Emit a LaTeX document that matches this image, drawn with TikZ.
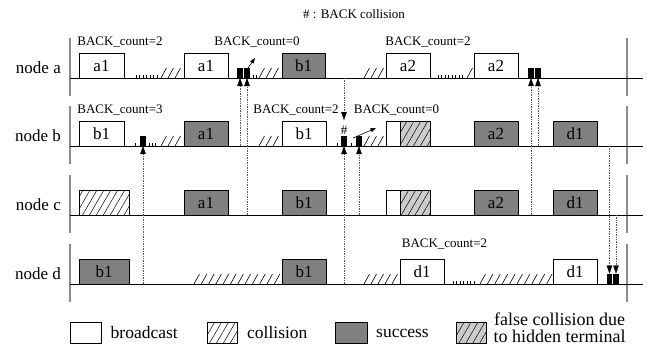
\documentclass[tikz,border=0pt]{standalone}
\usepackage{fontspec}
\setmainfont{Liberation Serif}
\usetikzlibrary{patterns.meta,arrows.meta}

\definecolor{succgray}{gray}{0.5}
\definecolor{hidgray}{gray}{0.8}
\definecolor{sidegray}{gray}{0.55}
\definecolor{linkgray}{gray}{0.35}

% backoff slots: small ticks on the time line
\newcommand\tickrun[4]{\foreach \i in {0,...,#3} \draw[line width=0.5pt] ({#1+\i*#2},#4) -- ++(0,-3.5);}
% deferred slots: short slashes on the time line
\newcommand\slashrun[4]{\foreach \i in {0,...,#3} \draw[line width=0.6pt] ({#1+\i*#2},#4) -- ++(5.5,-10);}

\tikzset{
  tl/.style={line width=0.7pt},
  side/.style={draw=sidegray, line width=1.1pt},
  slot/.style={draw, line width=0.6pt, minimum height=25pt, inner sep=0pt,
               font=\fontsize{17}{17}\selectfont},
  bcast/.style={slot, fill=white},
  succ/.style={slot, fill=succgray},
  coll/.style={slot, pattern={Lines[angle=60,distance=6pt,line width=0.5pt]}},
  hid/.style={slot, fill=hidgray, postaction={pattern={Lines[angle=60,distance=6pt,line width=0.5pt]}}},
  ack/.style={fill=black, minimum width=5.5pt, minimum height=10pt, inner sep=0pt, anchor=south},
  cnt/.style={font=\fontsize{13}{13}\selectfont, inner sep=0pt},
  rowname/.style={font=\fontsize{17}{17}\selectfont, anchor=base east, inner sep=0pt},
  lgtext/.style={font=\fontsize{17.5}{17}\selectfont, inner sep=0pt},
  lgbox/.style={minimum width=31pt, minimum height=21pt},
  link/.style={densely dotted, line width=0.7pt, draw=linkgray,
               -{Triangle[length=8pt,width=5.5pt,color=black,line width=0.2pt]}},
  bump/.style={-{Triangle[length=5.5pt,width=4pt]}, line width=0.6pt},
}

\begin{document}
\begin{tikzpicture}[x=1pt,y=-1pt]
\useasboundingbox (0,0) rectangle (647,346);

\node[cnt] (title) at (354,14) {\# : BACK collision};

% ---- row frames and time lines
\foreach \r/\b in {a/78, b/146, c/215, d/284}{
  \draw[side] (70,\b-40) -- (70,\b+18);
  \draw[side] (627,\b-40) -- (627,\b+18);
  \draw[tl] (70,\b) -- (643,\b);
  \node[rowname] (name\r) at (61,\b-5) {node \r};
}

% ---- node a
\node[bcast, minimum width=45pt] (a1) at (101.5,65.5) {a1};
\tickrun{136}{3.5}{6}{78}
\slashrun{161}{7}{2}{78}
\node[bcast, minimum width=44pt] (a2) at (206,65.5) {a1};
\node[ack] (aAck1) at (240,78) {};
\node[ack] (aAck2) at (247,78) {};
\tickrun{253}{3}{1}{78}
\slashrun{259}{7}{2}{78}
\node[succ, minimum width=43pt] (a3) at (303.5,65.5) {b1};
\slashrun{364}{7}{2}{78}
\node[bcast, minimum width=44pt] (a4) at (408,65.5) {a2};
\tickrun{438}{3.5}{7}{78}
\slashrun{467}{7}{0}{78}
\node[bcast, minimum width=44pt] (a5) at (496,65.5) {a2};
\node[ack] (aAck3) at (531,78) {};
\node[ack] (aAck4) at (538,78) {};
\node[cnt] (ca1) at (120,42) {BACK\_count=2};
\node[cnt] (ca2) at (257,42) {BACK\_count=0};
\node[cnt] (ca3) at (428,42) {BACK\_count=2};
\coordinate (ta0) at (248,68);
\coordinate (ta1) at (255,58);
\draw[bump] (ta0) -- (ta1);

% ---- node b
\node[bcast, minimum width=45pt] (b1) at (101.5,133.5) {b1};
\tickrun{135.5}{3.5}{0}{146}
\node[ack] (bAck1) at (143,146) {};
\tickrun{149}{3.3}{2}{146}
\slashrun{161}{7}{2}{146}
\node[succ, minimum width=44pt] (b2) at (206,133.5) {a1};
\slashrun{259}{7}{2}{146}
\node[bcast, minimum width=44pt] (b3) at (304,133.5) {b1};
\tickrun{337}{1}{0}{146}
\node[ack] (bAck2) at (344,146) {};
\node[cnt] (hash) at (344,130.5) {\#};
\tickrun{351.5}{1}{0}{146}
\node[ack] (bAck3) at (359,146) {};
\slashrun{364}{7}{2}{146}
\node[bcast, minimum width=14pt] (b4w) at (393,133.5) {};
\node[hid, minimum width=30pt] (b4h) at (415,133.5) {};
\node[succ, minimum width=44pt] (b5) at (496,133.5) {a2};
\node[succ, minimum width=44pt] (b6) at (575,133.5) {d1};
\node[cnt] (cb1) at (120,110) {BACK\_count=3};
\node[cnt] (cb2) at (296,110) {BACK\_count=2};
\node[cnt] (cb3) at (396.5,110) {BACK\_count=0};
\coordinate (tb0) at (353,138);
\coordinate (tb1) at (376,128);
\draw[bump] (tb0) -- (tb1);

% ---- node c
\node[coll, minimum width=50pt] (c1) at (104,202.5) {};
\node[succ, minimum width=44pt] (c2) at (206,202.5) {a1};
\node[succ, minimum width=44pt] (c3) at (304,202.5) {b1};
\node[bcast, minimum width=14pt] (c4w) at (393,202.5) {};
\node[hid, minimum width=30pt] (c4h) at (415,202.5) {};
\node[succ, minimum width=44pt] (c5) at (496,202.5) {a2};
\node[succ, minimum width=44pt] (c6) at (575,202.5) {d1};

% ---- node d
\node[succ, minimum width=50pt] (d1) at (104,271.5) {b1};
\slashrun{194}{7.3}{11}{284}
\node[succ, minimum width=44pt] (d2) at (304,271.5) {b1};
\slashrun{364}{7}{4}{284}
\node[bcast, minimum width=44pt] (d3) at (422,271.5) {d1};
\tickrun{453}{3.5}{6}{284}
\slashrun{480}{7.4}{9}{284}
\node[bcast, minimum width=44pt] (d4) at (575,271.5) {d1};
\node[ack] (dAck1) at (609.5,284) {};
\node[ack] (dAck2) at (616,284) {};
\node[cnt] (cd1) at (444.5,244) {BACK\_count=2};

% ---- acknowledgement links
\coordinate (sD143) at (143,284);
\coordinate (sB240) at (240,146);
\coordinate (sC247) at (247,215);
\coordinate (sA344) at (344,78);
\coordinate (eB344) at (344,120);
\coordinate (sD344) at (344,284);
\coordinate (sC359) at (359,215);
\coordinate (sC531) at (531,215);
\coordinate (sB538) at (538,146);
\coordinate (sB609) at (609.5,146);
\coordinate (sC616) at (616,215);
\draw[link] (sD143) -- (bAck1.south);
\draw[link] (sB240) -- (aAck1.south);
\draw[link] (sC247) -- (aAck2.south);
\draw[link] (sA344) -- (eB344);
\draw[link] (sD344) -- (bAck2.south);
\draw[link] (sC359) -- (bAck3.south);
\draw[link] (sC531) -- (aAck3.south);
\draw[link] (sB538) -- (aAck4.south);
\draw[link] (sB609) -- (dAck1.north);
\draw[link] (sC616) -- (dAck2.north);

% ---- legend
\node[bcast, lgbox] (lg1) at (85.5,333) {};
\node[lgtext, anchor=west] (lt1) at (110.5,333) {broadcast};
\node[coll, lgbox, minimum width=30pt] (lg2) at (222,333) {};
\node[lgtext, anchor=west] (lt2) at (247,333) {collision};
\node[succ, lgbox, minimum width=32pt] (lg3) at (351,333) {};
\node[lgtext, anchor=west] (lt3) at (376,333) {success};
\node[hid, lgbox, minimum width=30pt] (lg4) at (471,333) {};
\node[lgtext, font=\fontsize{18}{17}\selectfont, align=center] (lt4) at (559.5,327.5) {false collision due\\to hidden terminal};
\end{tikzpicture}
\end{document}
